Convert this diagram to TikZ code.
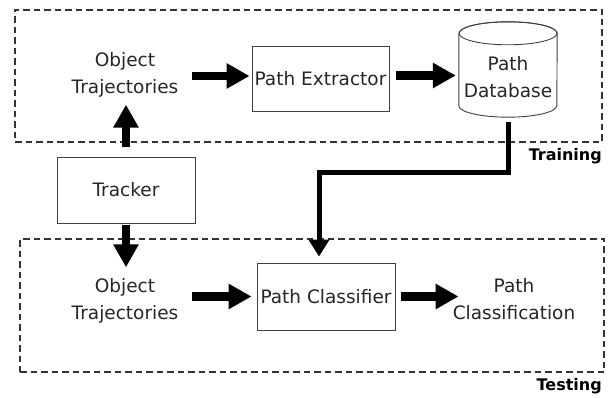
\documentclass[tikz,border=0pt]{standalone}
\usepackage{fontspec}
\setmainfont{DejaVu Sans}
\usetikzlibrary{arrows.meta,calc}
\begin{document}
\begin{tikzpicture}[x=1pt,y=-1pt,
  lbl/.style={align=center, inner sep=0pt, text=black!85, font=\fontsize{18.5}{27}\selectfont},
  box/.style={draw=black!75, line width=0.9pt, fill=white, inner sep=0pt, text=black!85,
              font=\fontsize{18.5}{27}\selectfont},
  region/.style={draw=black!80, line width=2pt, dash pattern=on 6.5pt off 4pt},
  tag/.style={inner sep=0pt, font=\fontsize{16}{16}\selectfont\bfseries},
  fat/.style={line width=8.5pt, -{Triangle[length=23pt,width=24pt]}},
  link/.style={line width=5pt, -{Triangle[length=17pt,width=20pt]}}]

  \useasboundingbox (0,0) rectangle (612,398);

  % dashed stage frames
  \node[region, minimum width=587pt, minimum height=132pt] (train) at (308.5,76) {};
  \node[region, minimum width=584pt, minimum height=133pt] (test) at (312,305.5) {};
  \node[tag, anchor=east] (trainlbl) at (602,156) {Training};
  \node[tag, anchor=east] (testlbl) at (602,386) {Testing};

  % blocks
  \node[box, minimum width=138pt, minimum height=66pt] (tracker) at (126,190) {Tracker};
  \node[box, minimum width=137pt, minimum height=65pt] (pe) at (320.5,78.5) {Path Extractor};
  \node[box, minimum width=138pt, minimum height=67pt] (pc) at (326,296.5) {Path Classifier};

  % database cylinder
  \node[inner sep=0pt, minimum width=98pt, minimum height=95pt] (db) at (508,69.5) {};
  \draw[draw=black!75, line width=0.9pt, fill=white]
    ([yshift=-11.5pt]db.north west) -- ([yshift=11.5pt]db.south west)
    arc[start angle=180, end angle=360, x radius=49pt, y radius=11.5pt]
    -- ([yshift=-11.5pt]db.north east)
    arc[start angle=0, end angle=180, x radius=49pt, y radius=11.5pt];
  \draw[draw=black!75, line width=0.9pt] ([yshift=-11.5pt]db.north)
    ellipse[x radius=49pt, y radius=11.5pt];
  \node[lbl] (dbtext) at (508,77) {Path\\Database};

  % plain text items
  \node[lbl] (ot1) at (125,75) {Object\\Trajectories};
  \node[lbl] (ot2) at (125,301) {Object\\Trajectories};
  \node[lbl] (pclass) at (514,299) {Path\\Classification};

  % data flow
  \draw[fat, shorten <=10pt, shorten >=7pt] (tracker.north) -- (tracker.north |- ot1.south);
  \draw[fat, shorten <=2pt, shorten >=11pt] (tracker.south) -- (tracker.south |- ot2.north);
  \draw[fat, shorten <=14pt, shorten >=2pt] ([yshift=-1pt]ot1.east) -- ([yshift=-1pt]ot1.east -| pe.west);
  \draw[fat, shorten <=7pt, shorten >=3pt] ([yshift=3pt]pe.east) -- ([yshift=3pt]pe.east -| db.west);
  \draw[fat, shorten <=14pt, shorten >=5pt] (pc.west -| ot2.east) -- (pc.west);
  \draw[fat, shorten <=6pt, shorten >=-6pt] (pc.east) -- (pc.east -| pclass.west);

  \coordinate (elbow) at (319,172);
  \draw[link, shorten <=5pt, shorten >=6pt] (db.south) |- (elbow) -- (elbow |- pc.north);
\end{tikzpicture}
\end{document}
